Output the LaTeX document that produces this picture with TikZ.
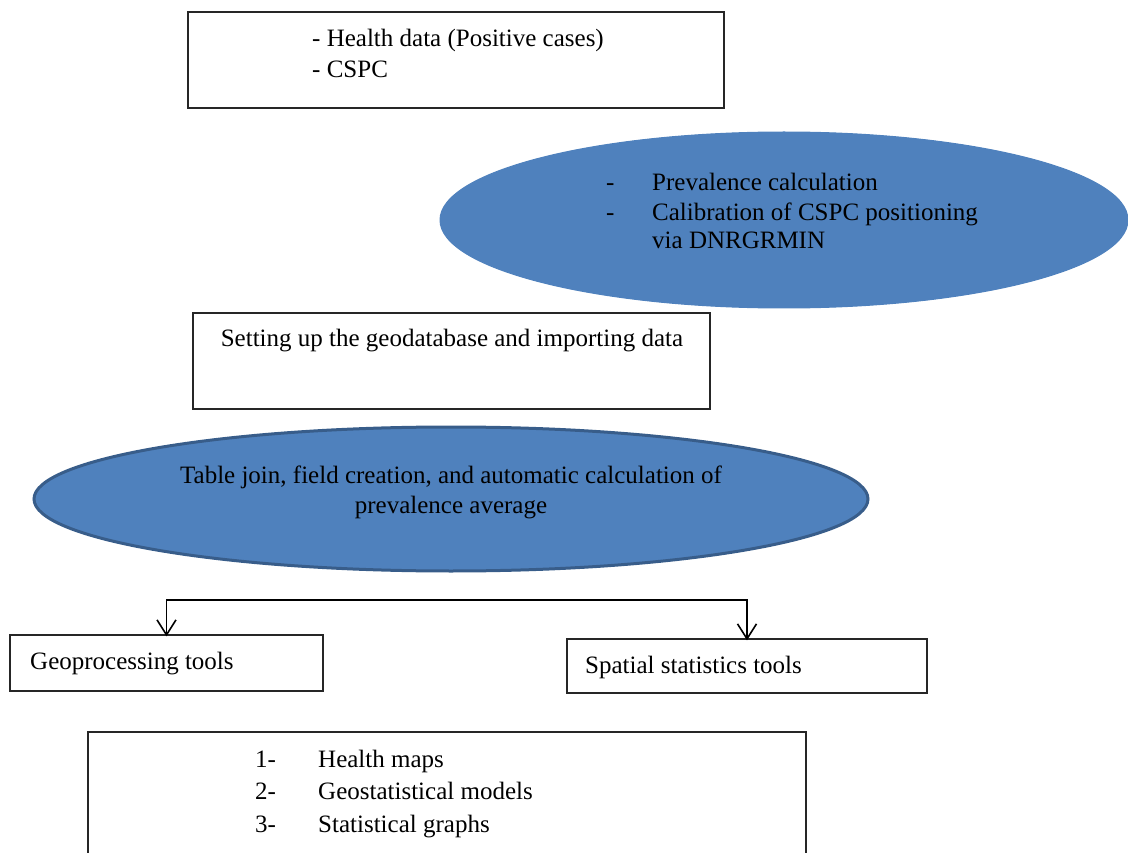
\documentclass[tikz,border=0pt]{standalone}
\usepackage{fontspec}
\setmainfont{Liberation Serif}
\usetikzlibrary{arrows.meta,shapes.geometric}
\definecolor{fillblue}{HTML}{4F81BD}
\definecolor{edgeblue}{HTML}{385D8A}
\begin{document}
\begin{tikzpicture}[x=1pt,y=-1pt,
  box/.style={draw=black!85, line width=1.3pt, inner sep=0pt},
  blob/.style={ellipse, fill=fillblue, inner sep=0pt},
  txt/.style={font=\fontsize{25}{30}\selectfont, inner sep=0pt, anchor=base west},
  ctxt/.style={font=\fontsize{25}{30}\selectfont, inner sep=0pt, anchor=base},
  conn/.style={draw=black, line width=1.6pt, -{Straight Barb[length=15pt,width=19pt,line width=1.6pt]}}
]
\useasboundingbox (0,0) rectangle (1128,853);

% input data
\node[box, minimum width=536pt, minimum height=96pt] (data) at (456,60) {};
\node[txt] (d1) at (312,47) {- Health data (Positive cases)};
\node[txt] (d2) at (312,78) {- CSPC};

% preparation
\node[blob, draw=fillblue, line width=1pt, minimum width=688pt, minimum height=176pt] (prep) at (784,220) {};
\node[txt] (p1b) at (606,191) {-};
\node[txt] (p1) at (652,191) {Prevalence calculation};
\node[txt] (p2b) at (606,221) {-};
\node[txt] (p2) at (652,221) {Calibration of CSPC positioning};
\node[txt] (p3) at (652,249) {via DNRGRMIN};

% geodatabase
\node[box, minimum width=517pt, minimum height=96pt] (gdb) at (451.5,361) {};
\node[ctxt] (g1) at (452,346) {Setting up the geodatabase and importing data};

% join and calculation
\node[blob, draw=edgeblue, line width=3pt, minimum width=834pt, minimum height=144pt] (join) at (451,499) {};
\node[ctxt] (j1) at (451,483) {Table join, field creation, and automatic calculation of};
\node[ctxt] (j2) at (451,513) {prevalence average};

% tools
\node[box, minimum width=313pt, minimum height=56pt] (geo) at (166.5,663) {};
\node[txt] (geot) at (30,669) {Geoprocessing tools};
\node[box, minimum width=360pt, minimum height=54pt] (spat) at (747,666) {};
\node[txt] (spatt) at (585,673) {Spatial statistics tools};

\coordinate (split) at (458,600);
\draw[conn] (split) -| ([yshift=-2pt]geo.north);
\draw[conn] (split) -| ([yshift=-2pt]spat.north);

% outputs
\node[box, minimum width=718pt, minimum height=126pt] (out) at (447,795) {};
\node[txt] (o1n) at (255,767) {1-};
\node[txt] (o1) at (318,767) {Health maps};
\node[txt] (o2n) at (255,799) {2-};
\node[txt] (o2) at (318,799) {Geostatistical models};
\node[txt] (o3n) at (255,832) {3-};
\node[txt] (o3) at (318,832) {Statistical graphs};
\end{tikzpicture}
\end{document}
